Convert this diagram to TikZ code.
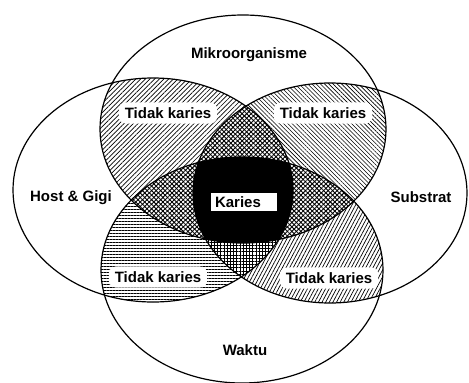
\documentclass[tikz,border=0pt]{standalone}
\usepackage{fontspec}
\setmainfont{Liberation Sans}
\usetikzlibrary{patterns.meta}
\newcommand\EllTop{(243,129) ellipse [x radius=143pt, y radius=114pt]}
\newcommand\EllBot{(242,270) ellipse [x radius=141pt, y radius=113pt]}
\newcommand\EllLft{(153,190) ellipse [x radius=140pt, y radius=112pt]}
\newcommand\EllRgt{(330,193) ellipse [x radius=137pt, y radius=110pt]}
\newcommand\Everything{(0,0) rectangle (469,383)}
\tikzset{
  lbl/.style={font=\fontsize{15}{17}\selectfont\bfseries, inner sep=0pt},
  tkbox/.style={lbl, fill=white, rounded corners=7pt, inner xsep=6pt, inner ysep=5pt},
  kbox/.style={lbl, fill=white, inner xsep=4pt, inner ysep=3pt, text width=58pt, align=left},
  outline/.style={line width=1.2pt},
  triple/.style={pattern={Lines[angle=45,distance=3.2pt,line width=0.9pt]}},
  tripleb/.style={pattern={Lines[angle=-45,distance=3.2pt,line width=0.9pt]}},
}
\begin{document}
\begin{tikzpicture}[x=1pt,y=-1pt]
\useasboundingbox \Everything;
% pairwise lenses
\begin{scope}\clip \EllTop; \clip \EllLft;
  \fill[pattern={Lines[angle=45,distance=3.3pt,line width=0.7pt]}] \Everything;
\end{scope}
\begin{scope}\clip \EllTop; \clip \EllRgt;
  \fill[pattern={Lines[angle=-45,distance=3pt,line width=0.6pt]}] \Everything;
\end{scope}
\begin{scope}\clip \EllLft; \clip \EllBot;
  \fill[pattern={Lines[angle=0,distance=3pt,line width=0.7pt]}] \Everything;
\end{scope}
\begin{scope}\clip \EllRgt; \clip \EllBot;
  \fill[pattern={Lines[angle=62,distance=3.2pt,line width=0.7pt]}] \Everything;
\end{scope}
% triple regions
\begin{scope}\clip \EllTop; \clip \EllLft; \clip \EllRgt;
  \fill[white] \Everything; \fill[triple] \Everything; \fill[tripleb] \Everything;
\end{scope}
\begin{scope}\clip \EllTop; \clip \EllLft; \clip \EllBot;
  \fill[white] \Everything; \fill[triple] \Everything; \fill[tripleb] \Everything;
\end{scope}
\begin{scope}\clip \EllTop; \clip \EllRgt; \clip \EllBot;
  \fill[white] \Everything; \fill[triple] \Everything; \fill[tripleb] \Everything;
\end{scope}
\begin{scope}\clip \EllLft; \clip \EllRgt; \clip \EllBot;
  \fill[white] \Everything;
  \fill[pattern={Lines[angle=0,distance=3.2pt,line width=0.9pt]}] \Everything;
  \fill[pattern={Lines[angle=90,distance=3.2pt,line width=0.9pt]}] \Everything;
\end{scope}
% all four
\begin{scope}\clip \EllTop; \clip \EllLft; \clip \EllRgt; \clip \EllBot;
  \fill[black] \Everything;
\end{scope}
% outlines
\draw[outline] \EllTop;
\draw[outline] \EllBot;
\draw[outline] \EllLft;
\draw[outline] \EllRgt;
% labels
\node[lbl] (mikro) at (249,55) {Mikroorganisme};
\node[lbl] (host) at (71,198) {Host \& Gigi};
\node[lbl] (sub) at (421,197) {Substrat};
\node[lbl] (waktu) at (245,350) {Waktu};
\node[tkbox] (tkul) at (168,113) {Tidak karies};
\node[tkbox] (tkur) at (323,113) {Tidak karies};
\node[tkbox] (tkll) at (158,277) {Tidak karies};
\node[tkbox] (tklr) at (329,278) {Tidak karies};
\node[kbox] (karies) at (244,202) {Karies};
\end{tikzpicture}
\end{document}
